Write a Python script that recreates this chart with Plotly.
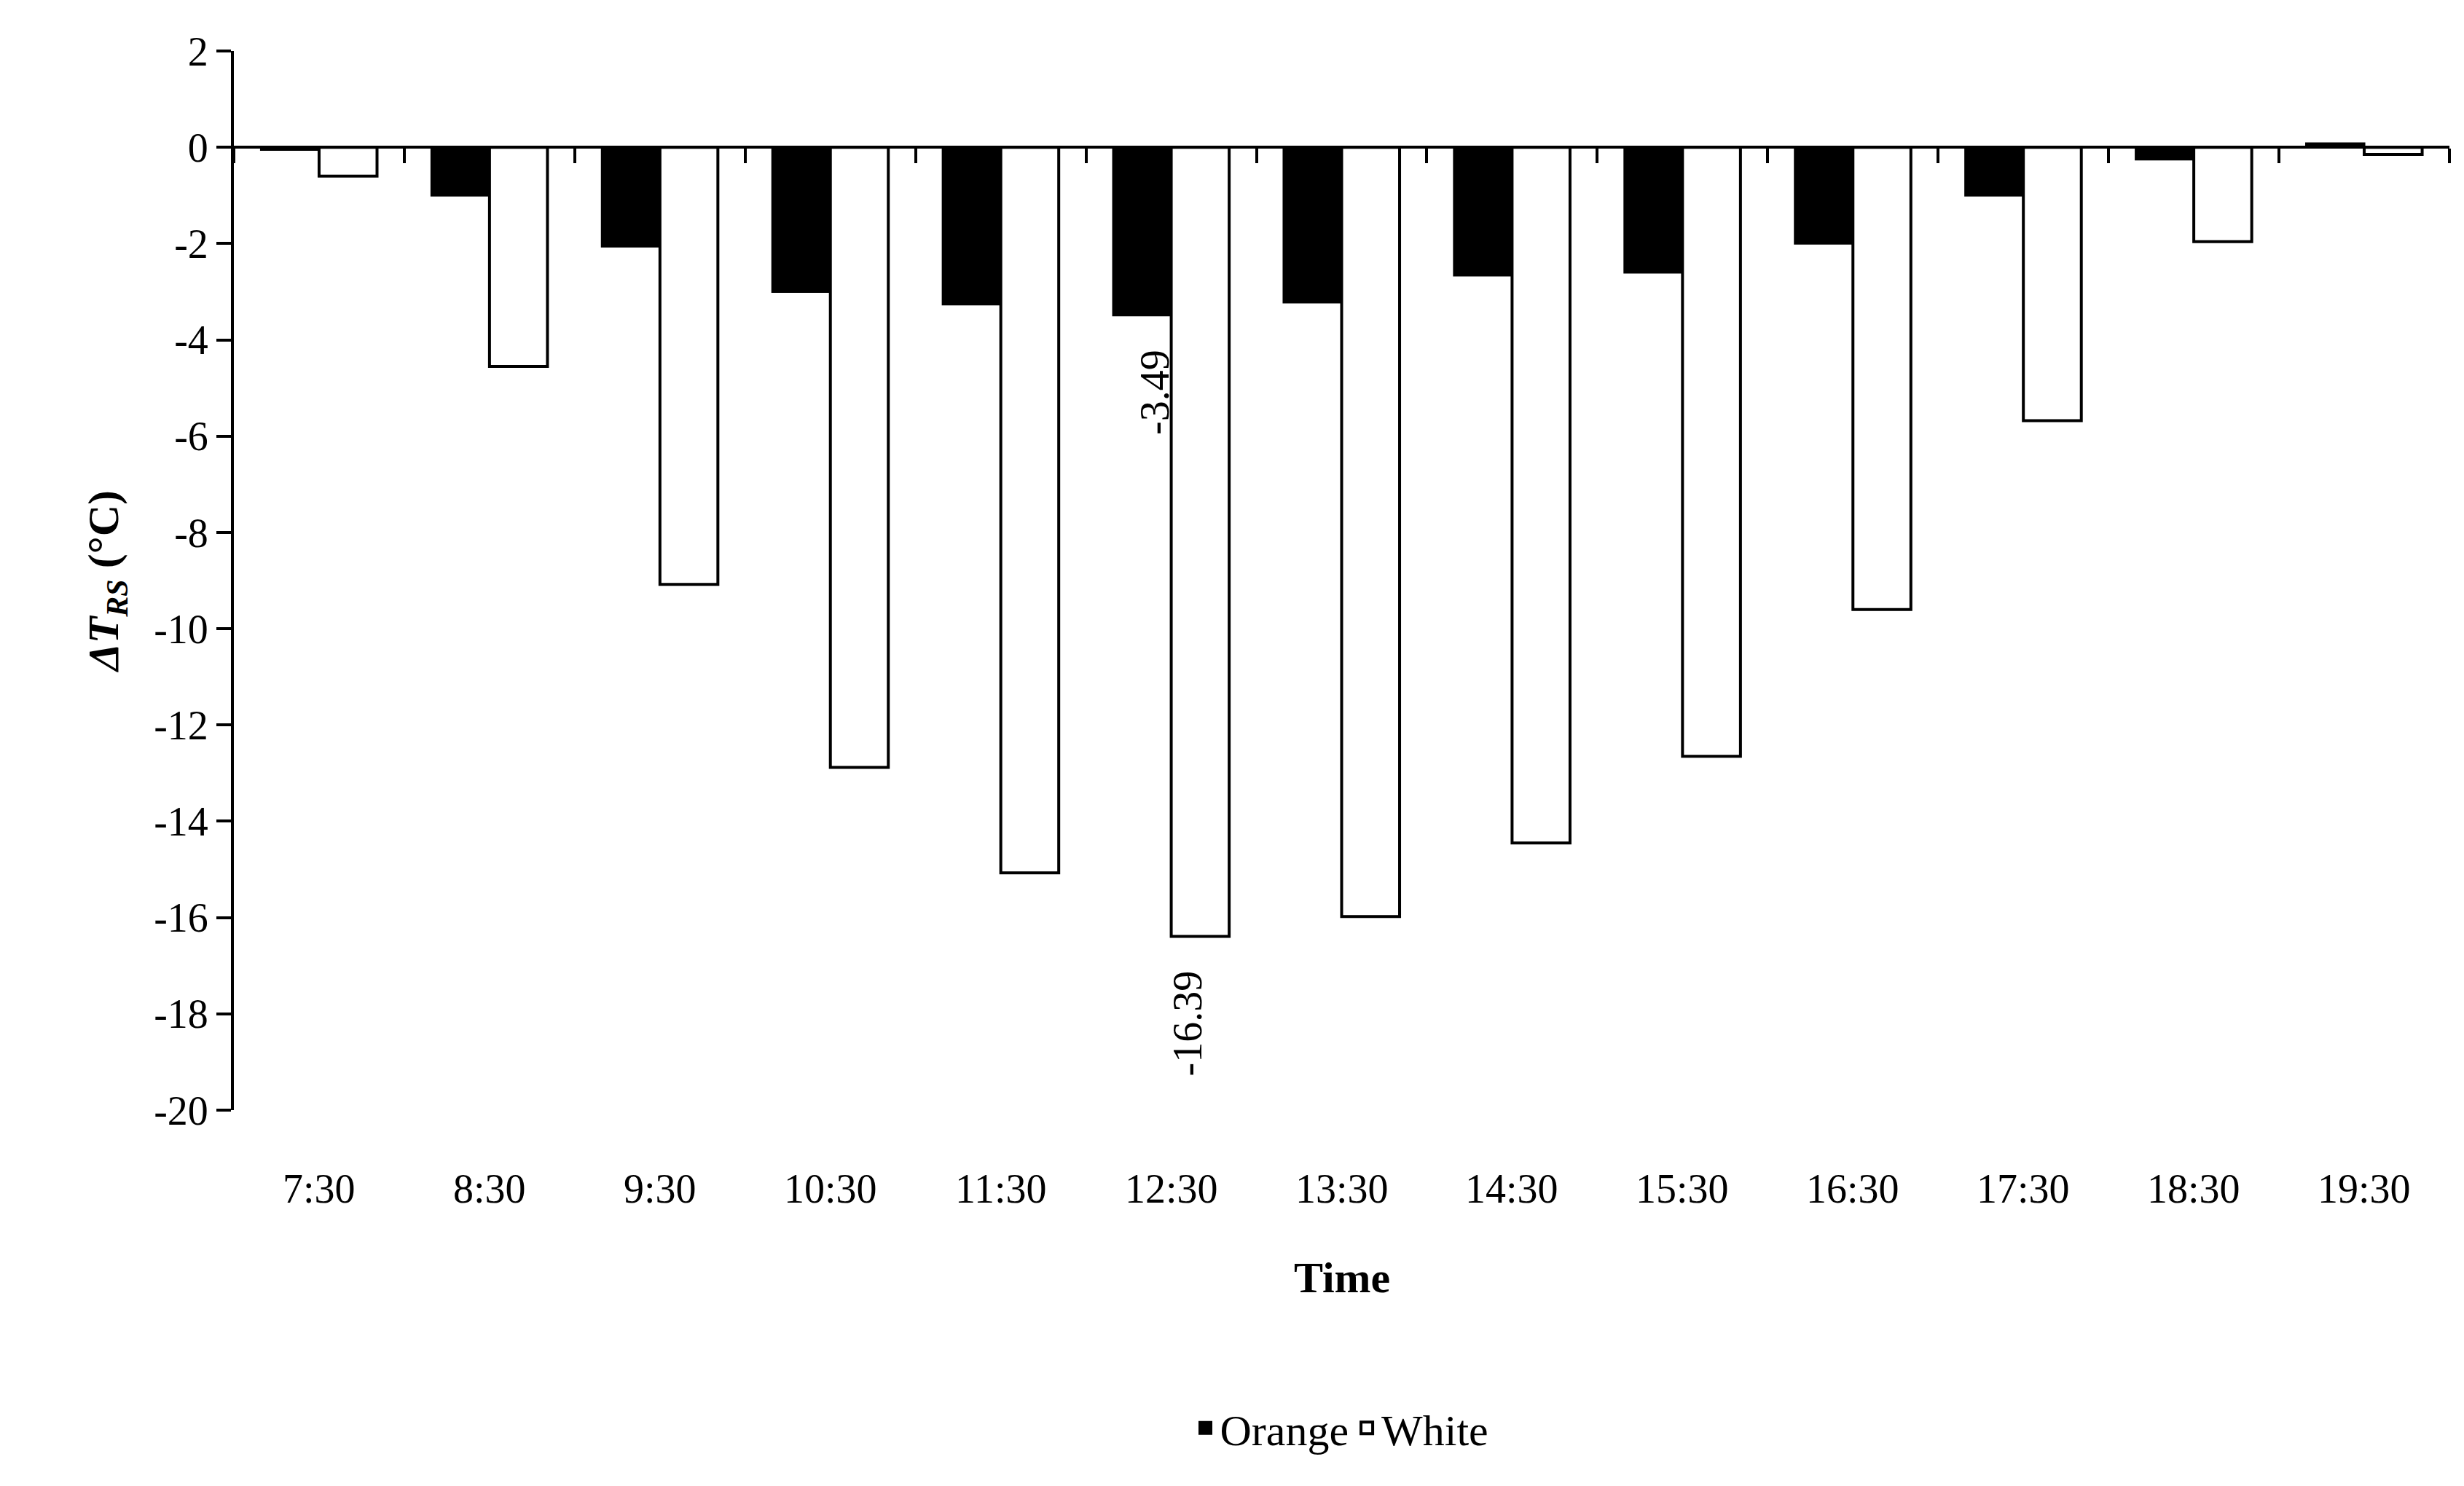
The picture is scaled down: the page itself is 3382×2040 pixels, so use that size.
import plotly.graph_objects as go

categories = ["7:30","8:30","9:30","10:30","11:30","12:30","13:30","14:30","15:30","16:30","17:30","18:30","19:30"]
orange = [-0.05,-1.0,-2.06,-3.0,-3.26,-3.49,-3.22,-2.66,-2.6,-2.0,-1.0,-0.25,0.08]
white = [-0.6,-4.55,-9.08,-12.88,-15.07,-16.39,-15.98,-14.45,-12.65,-9.6,-5.68,-1.96,-0.15]
yticks = list(range(-20, 3, 2))

F = "Liberation Serif"
fig = go.Figure()
fig.add_bar(x=categories, y=orange, name="Orange", showlegend=False,
            marker=dict(color="black", line=dict(color="black", width=3)))
fig.add_bar(x=categories, y=white, name="White", showlegend=False,
            marker=dict(color="white", line=dict(color="black", width=4)))
fig.add_scatter(x=[None], y=[None], mode="markers", name="Orange",
                marker=dict(symbol="square", size=44, color="black", line=dict(color="black", width=3)))
fig.add_scatter(x=[None], y=[None], mode="markers", name="White",
                marker=dict(symbol="square", size=44, color="white", line=dict(color="black", width=4)))

for c in categories:
    fig.add_annotation(x=c, y=0, yref="paper", yanchor="top", yshift=-75, text=c, showarrow=False,
                       font=dict(family=F, size=56, color="black"))
fig.add_annotation(x=0.5, xref="paper", y=0, yref="paper", yanchor="top", yshift=-195, text="<b>Time</b>",
                   showarrow=False, font=dict(family=F, size=60, color="black"))
fig.add_annotation(x=categories[5], y=orange[5], xshift=-22, yanchor="top", yshift=-45, text="%.2f" % orange[5],
                   textangle=-90, showarrow=False, font=dict(family=F, size=56, color="black"))
fig.add_annotation(x=categories[5], y=white[5], xshift=22, yanchor="top", yshift=-45, text="%.2f" % white[5],
                   textangle=-90, showarrow=False, font=dict(family=F, size=56, color="black"))

fig.update_layout(
    width=3382, height=2040, plot_bgcolor="white", paper_bgcolor="white",
    margin=dict(l=313, r=28, t=62, b=524),
    barmode="group", bargap=0.32, bargroupgap=0,
    font=dict(family=F, size=56, color="black"),
    xaxis=dict(anchor="free", position=20/22, showline=True, linecolor="black", linewidth=4,
               ticks="outside", tickson="boundaries", ticklen=20, tickwidth=4, tickcolor="black",
               showticklabels=False, showgrid=False),
    yaxis=dict(range=[-20, 2], tickvals=yticks, ticktext=[str(v) for v in yticks],
               showline=True, linecolor="black", linewidth=4,
               ticks="outside", ticklen=20, tickwidth=4, tickcolor="black", showgrid=False, zeroline=False,
               title=dict(text="<b><i>ΔT</i><sub><i>RS</i></sub> (°C)</b>", font=dict(size=60), standoff=30),
               tickfont=dict(size=56)),
    legend=dict(orientation="h", x=0.5, xanchor="center", y=-0.3, yanchor="middle",
                font=dict(size=60), itemsizing="trace"),
)
fig.write_html("out.html")
